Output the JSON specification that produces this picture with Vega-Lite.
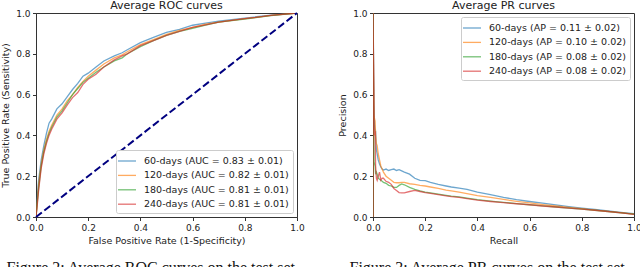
{
  "$schema": "https://vega.github.io/schema/vega-lite/v6.json",
  "autosize": {"type": "pad"},
  "padding": {"left": 0, "top": -1, "right": 0, "bottom": 0},
  "spacing": 76,
  "bounds": "flush",
  "config": {
    "font": "DejaVu Sans",
    "view": {"stroke": "#333", "strokeWidth": 1},
    "axis": {"grid": false, "domainColor": "#333", "tickColor": "#333", "tickSize": 3.5, "labelFontSize": 9, "labelColor": "#222", "titleFontSize": 9.5, "titleFontWeight": "normal", "titleColor": "#222", "labelPadding": 2.5, "titlePadding": 3, "labelFlush": false},
    "title": {"fontSize": 11, "fontWeight": "normal", "color": "#222", "offset": -2},
    "legend": {"symbolType": "M-1.5,0H1.5", "symbolSize": 144, "symbolStrokeWidth": 1.3, "symbolOpacity": 0.65, "symbolFillColor": "transparent", "labelFontSize": 9.5, "labelColor": "#222", "labelOffset": 10, "rowPadding": 2.4, "padding": 4, "strokeColor": "#ccc", "fillColor": "white", "cornerRadius": 2, "title": null, "labelLimit": 300}
  },
  "datasets": {
    "roc": [
      {"x": 0, "d60": 0, "d120": 0, "d180": 0, "d240": 0},
      {"x": 0.005, "d60": 0.10, "d120": 0.08, "d180": 0.07, "d240": 0.06},
      {"x": 0.01, "d60": 0.18, "d120": 0.16, "d180": 0.14, "d240": 0.13},
      {"x": 0.02, "d60": 0.28, "d120": 0.26, "d180": 0.25, "d240": 0.24},
      {"x": 0.03, "d60": 0.35, "d120": 0.33, "d180": 0.32, "d240": 0.31},
      {"x": 0.04, "d60": 0.41, "d120": 0.38, "d180": 0.37, "d240": 0.36},
      {"x": 0.05, "d60": 0.46, "d120": 0.42, "d180": 0.41, "d240": 0.40},
      {"x": 0.06, "d60": 0.48, "d120": 0.45, "d180": 0.44, "d240": 0.43},
      {"x": 0.08, "d60": 0.53, "d120": 0.50, "d180": 0.49, "d240": 0.48},
      {"x": 0.10, "d60": 0.555, "d120": 0.53, "d180": 0.52, "d240": 0.51},
      {"x": 0.12, "d60": 0.59, "d120": 0.57, "d180": 0.56, "d240": 0.55},
      {"x": 0.14, "d60": 0.625, "d120": 0.60, "d180": 0.60, "d240": 0.585},
      {"x": 0.16, "d60": 0.655, "d120": 0.635, "d180": 0.63, "d240": 0.61},
      {"x": 0.18, "d60": 0.69, "d120": 0.665, "d180": 0.66, "d240": 0.65},
      {"x": 0.20, "d60": 0.705, "d120": 0.69, "d180": 0.68, "d240": 0.675},
      {"x": 0.23, "d60": 0.735, "d120": 0.72, "d180": 0.71, "d240": 0.70},
      {"x": 0.26, "d60": 0.765, "d120": 0.75, "d180": 0.735, "d240": 0.735},
      {"x": 0.30, "d60": 0.79, "d120": 0.78, "d180": 0.765, "d240": 0.77},
      {"x": 0.33, "d60": 0.805, "d120": 0.795, "d180": 0.78, "d240": 0.79},
      {"x": 0.35, "d60": 0.82, "d120": 0.81, "d180": 0.80, "d240": 0.80},
      {"x": 0.40, "d60": 0.855, "d120": 0.845, "d180": 0.835, "d240": 0.84},
      {"x": 0.45, "d60": 0.88, "d120": 0.87, "d180": 0.865, "d240": 0.865},
      {"x": 0.50, "d60": 0.905, "d120": 0.895, "d180": 0.89, "d240": 0.89},
      {"x": 0.55, "d60": 0.92, "d120": 0.915, "d180": 0.91, "d240": 0.91},
      {"x": 0.60, "d60": 0.94, "d120": 0.93, "d180": 0.925, "d240": 0.93},
      {"x": 0.65, "d60": 0.95, "d120": 0.945, "d180": 0.94, "d240": 0.942},
      {"x": 0.70, "d60": 0.96, "d120": 0.955, "d180": 0.955, "d240": 0.955},
      {"x": 0.80, "d60": 0.975, "d120": 0.972, "d180": 0.97, "d240": 0.972},
      {"x": 0.90, "d60": 0.99, "d120": 0.988, "d180": 0.987, "d240": 0.988},
      {"x": 1.0, "d60": 1, "d120": 1, "d180": 1, "d240": 1}
    ],
    "pr": [
      {"x": 0, "d60": 0, "d120": 0, "d180": 0, "d240": 0},
      {"x": 0, "d60": 1, "d120": 1, "d180": 1, "d240": 1},
      {"x": 0.002, "d60": 0.8, "d120": 0.75, "d180": 0.57, "d240": 0.75},
      {"x": 0.004, "d60": 0.55, "d120": 0.5, "d180": 0.27, "d240": 0.45},
      {"x": 0.006, "d60": 0.45, "d120": 0.48, "d180": 0.26, "d240": 0.40},
      {"x": 0.008, "d60": 0.43, "d120": 0.47, "d180": 0.25, "d240": 0.42},
      {"x": 0.010, "d60": 0.42, "d120": 0.40, "d180": 0.21, "d240": 0.25},
      {"x": 0.013, "d60": 0.33, "d120": 0.36, "d180": 0.22, "d240": 0.19},
      {"x": 0.016, "d60": 0.31, "d120": 0.35, "d180": 0.21, "d240": 0.18},
      {"x": 0.020, "d60": 0.28, "d120": 0.31, "d180": 0.19, "d240": 0.20},
      {"x": 0.025, "d60": 0.26, "d120": 0.28, "d180": 0.185, "d240": 0.22},
      {"x": 0.030, "d60": 0.245, "d120": 0.25, "d180": 0.18, "d240": 0.18},
      {"x": 0.035, "d60": 0.235, "d120": 0.235, "d180": 0.175, "d240": 0.19},
      {"x": 0.040, "d60": 0.23, "d120": 0.22, "d180": 0.17, "d240": 0.19},
      {"x": 0.050, "d60": 0.235, "d120": 0.20, "d180": 0.165, "d240": 0.175},
      {"x": 0.060, "d60": 0.228, "d120": 0.19, "d180": 0.155, "d240": 0.17},
      {"x": 0.070, "d60": 0.232, "d120": 0.18, "d180": 0.152, "d240": 0.16},
      {"x": 0.080, "d60": 0.235, "d120": 0.17, "d180": 0.145, "d240": 0.14},
      {"x": 0.090, "d60": 0.228, "d120": 0.168, "d180": 0.145, "d240": 0.13},
      {"x": 0.100, "d60": 0.232, "d120": 0.168, "d180": 0.155, "d240": 0.12},
      {"x": 0.110, "d60": 0.226, "d120": 0.17, "d180": 0.162, "d240": 0.118},
      {"x": 0.120, "d60": 0.22, "d120": 0.17, "d180": 0.158, "d240": 0.118},
      {"x": 0.140, "d60": 0.21, "d120": 0.163, "d180": 0.145, "d240": 0.125},
      {"x": 0.160, "d60": 0.19, "d120": 0.16, "d180": 0.135, "d240": 0.13},
      {"x": 0.180, "d60": 0.18, "d120": 0.155, "d180": 0.128, "d240": 0.125},
      {"x": 0.200, "d60": 0.178, "d120": 0.152, "d180": 0.122, "d240": 0.12},
      {"x": 0.220, "d60": 0.17, "d120": 0.147, "d180": 0.118, "d240": 0.116},
      {"x": 0.250, "d60": 0.16, "d120": 0.14, "d180": 0.112, "d240": 0.11},
      {"x": 0.280, "d60": 0.152, "d120": 0.132, "d180": 0.106, "d240": 0.104},
      {"x": 0.300, "d60": 0.147, "d120": 0.128, "d180": 0.102, "d240": 0.1},
      {"x": 0.330, "d60": 0.142, "d120": 0.122, "d180": 0.099, "d240": 0.096},
      {"x": 0.360, "d60": 0.135, "d120": 0.115, "d180": 0.093, "d240": 0.09},
      {"x": 0.400, "d60": 0.122, "d120": 0.105, "d180": 0.085, "d240": 0.083},
      {"x": 0.450, "d60": 0.11, "d120": 0.096, "d180": 0.078, "d240": 0.076},
      {"x": 0.500, "d60": 0.096, "d120": 0.086, "d180": 0.072, "d240": 0.07},
      {"x": 0.550, "d60": 0.085, "d120": 0.077, "d180": 0.066, "d240": 0.065},
      {"x": 0.600, "d60": 0.076, "d120": 0.069, "d180": 0.06, "d240": 0.06},
      {"x": 0.650, "d60": 0.068, "d120": 0.061, "d180": 0.055, "d240": 0.054},
      {"x": 0.700, "d60": 0.059, "d120": 0.054, "d180": 0.049, "d240": 0.049},
      {"x": 0.750, "d60": 0.051, "d120": 0.047, "d180": 0.044, "d240": 0.044},
      {"x": 0.800, "d60": 0.044, "d120": 0.041, "d180": 0.039, "d240": 0.039},
      {"x": 0.850, "d60": 0.037, "d120": 0.034, "d180": 0.033, "d240": 0.033},
      {"x": 0.900, "d60": 0.03, "d120": 0.028, "d180": 0.027, "d240": 0.027},
      {"x": 0.950, "d60": 0.023, "d120": 0.021, "d180": 0.02, "d240": 0.02},
      {"x": 1.000, "d60": 0.016, "d120": 0.014, "d180": 0.014, "d240": 0.013}
    ],
    "rocLabels": [
      {"k": "d60", "label": "60-days (AUC = 0.83 ± 0.01)"},
      {"k": "d120", "label": "120-days (AUC = 0.82 ± 0.01)"},
      {"k": "d180", "label": "180-days (AUC = 0.81 ± 0.01)"},
      {"k": "d240", "label": "240-days (AUC = 0.81 ± 0.01)"}
    ],
    "prLabels": [
      {"k": "d60", "label": "60-days (AP = 0.11 ± 0.02)"},
      {"k": "d120", "label": "120-days (AP = 0.10 ± 0.02)"},
      {"k": "d180", "label": "180-days (AP = 0.08 ± 0.02)"},
      {"k": "d240", "label": "240-days (AP = 0.08 ± 0.02)"}
    ],
    "diag": [{"x": 0, "y": 0}, {"x": 1, "y": 1}]
  },
  "resolve": {"scale": {"color": "independent"}, "legend": {"color": "independent"}},
  "hconcat": [
    {
      "width": 261,
      "height": 204,
      "title": "Average ROC curves",
      "resolve": {"axis": {"x": "independent"}},
      "layer": [
        {
          "data": {"name": "roc"},
          "transform": [
            {"fold": ["d60", "d120", "d180", "d240"], "as": ["k", "y"]},
            {"lookup": "k", "from": {"data": {"name": "rocLabels"}, "key": "k", "fields": ["label"]}}
          ],
          "mark": {"type": "line", "strokeWidth": 1.3, "opacity": 0.65, "clip": true},
          "encoding": {
            "x": {"field": "x", "type": "quantitative", "scale": {"domain": [0, 1], "nice": false}, "axis": {"title": "False Positive Rate (1-Specificity)", "values": [0, 0.2, 0.4, 0.6, 0.8, 1], "format": ".1f"}},
            "y": {"field": "y", "type": "quantitative", "scale": {"domain": [0, 1], "nice": false}, "axis": {"title": "True Positive Rate (Sensitivity)", "values": [0, 0.2, 0.4, 0.6, 0.8, 1], "format": ".1f", "titlePadding": 5}},
            "color": {"field": "label", "type": "nominal", "scale": {"domain": ["60-days (AUC = 0.83 ± 0.01)", "120-days (AUC = 0.82 ± 0.01)", "180-days (AUC = 0.81 ± 0.01)", "240-days (AUC = 0.81 ± 0.01)"], "range": ["#1f77b4", "#ff7f0e", "#2ca02c", "#d62728"]}, "legend": {"orient": "bottom-right", "offset": 4}}
          }
        },
        {
          "data": {"name": "diag"},
          "mark": {"type": "line", "color": "#000080", "strokeWidth": 2, "strokeDash": [7.4, 3.2]},
          "encoding": {
            "x": {"field": "x", "type": "quantitative", "axis": {"orient": "bottom", "title": "Figure 2: Average ROC curves on the test set", "titleFont": "Liberation Serif", "titleFontSize": 16, "titleColor": "#111", "titleAnchor": "start", "titleAlign": "left", "titleX": -30, "titleBaseline": "top", "titlePadding": 42, "labels": false, "ticks": false, "domain": false}},
            "y": {"field": "y", "type": "quantitative"}
          }
        }
      ]
    },
    {
      "width": 261,
      "height": 204,
      "title": "Average PR curves",
      "resolve": {"axis": {"x": "independent"}},
      "layer": [
        {
          "data": {"name": "pr"},
          "transform": [
            {"fold": ["d60", "d120", "d180", "d240"], "as": ["k", "y"]},
            {"lookup": "k", "from": {"data": {"name": "prLabels"}, "key": "k", "fields": ["label"]}}
          ],
          "mark": {"type": "line", "strokeWidth": 1.3, "opacity": 0.65, "clip": true},
          "encoding": {
            "x": {"field": "x", "type": "quantitative", "scale": {"domain": [0, 1], "nice": false}, "axis": {"title": "Recall", "values": [0, 0.2, 0.4, 0.6, 0.8, 1], "format": ".1f"}},
            "y": {"field": "y", "type": "quantitative", "scale": {"domain": [0, 1], "nice": false}, "axis": {"title": "Precision", "values": [0, 0.2, 0.4, 0.6, 0.8, 1], "format": ".1f", "titlePadding": 5}},
            "color": {"field": "label", "type": "nominal", "scale": {"domain": ["60-days (AP = 0.11 ± 0.02)", "120-days (AP = 0.10 ± 0.02)", "180-days (AP = 0.08 ± 0.02)", "240-days (AP = 0.08 ± 0.02)"], "range": ["#1f77b4", "#ff7f0e", "#2ca02c", "#d62728"]}, "legend": {"orient": "top-right", "offset": 4}}
          }
        },
        {
          "data": {"name": "pr"},
          "mark": {"type": "point", "opacity": 0},
          "encoding": {
            "x": {"field": "x", "type": "quantitative", "axis": {"orient": "bottom", "title": "Figure 3: Average PR curves on the test set", "titleFont": "Liberation Serif", "titleFontSize": 16, "titleColor": "#111", "titleAnchor": "start", "titleAlign": "left", "titleX": -24, "titleBaseline": "top", "titlePadding": 42, "labels": false, "ticks": false, "domain": false}},
            "y": {"field": "d60", "type": "quantitative"}
          }
        }
      ]
    }
  ]
}
